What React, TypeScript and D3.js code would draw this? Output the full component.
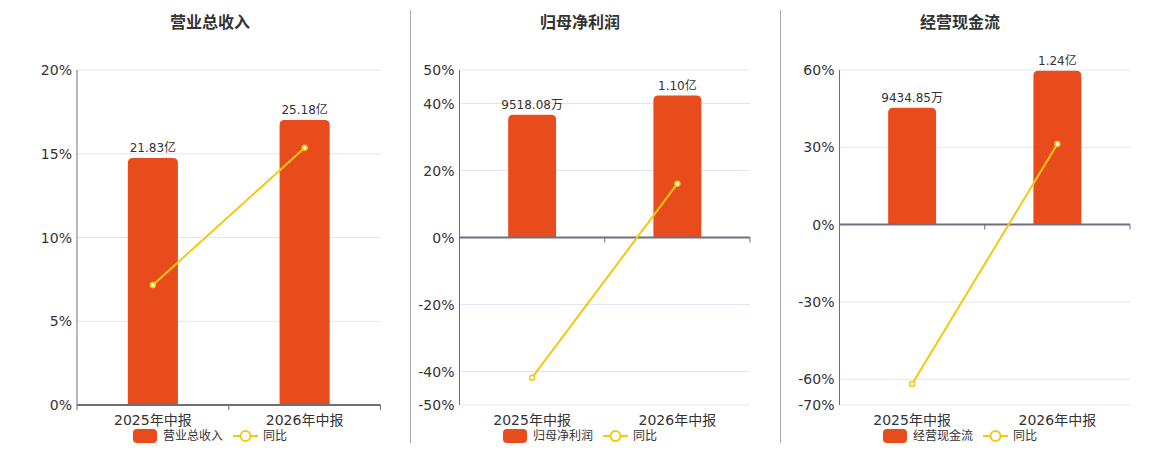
import * as d3 from 'd3';

const categories = ['2025年中报', '2026年中报'];
const titles = ['营业总收入', '归母净利润', '经营现金流'];

// bar values in 亿
const revenueValues = [21.83, 25.18];
const netProfitValues = [0.951808, 1.1];
const cashFlowValues = [0.943485, 1.24];

const revenueLabels = ['21.83亿', '25.18亿'];
const netProfitLabels = ['9518.08万', '1.10亿'];
const cashFlowLabels = ['9434.85万', '1.24亿'];

// 同比 (%)
const revenueYoy = [7.16, 15.36];
const netProfitYoy = [-41.85, 16.06];
const cashFlowYoy = [-61.86, 31.28];

const revenueTicks = [0, 5, 10, 15, 20];
const netProfitTicks = [-50, -40, -20, 0, 20, 40, 50];
const cashFlowTicks = [-70, -60, -30, 0, 30, 60];

const BAR = '#E94C1C';
const LINE = '#F3C80E';
const FONT = '"DejaVu Sans", "Noto Sans CJK SC", sans-serif';

const panels = [
  { title: titles[0], bars: revenueValues, labels: revenueLabels, yoy: revenueYoy, ticks: revenueTicks, barMax: 29.6, left: 77, right: 380.5, center: 210 },
  { title: titles[1], bars: netProfitValues, labels: netProfitLabels, yoy: netProfitYoy, ticks: netProfitTicks, barMax: 1.298, left: 459.5, right: 750, center: 580 },
  { title: titles[2], bars: cashFlowValues, labels: cashFlowLabels, yoy: cashFlowYoy, ticks: cashFlowTicks, barMax: 1.247, left: 839.5, right: 1130, center: 960 },
];

const TOP = 70;
const BOTTOM = 405;

function Panel({ p }: { p: (typeof panels)[number] }) {
  const x = d3.scaleBand().domain(categories).range([p.left, p.right]);
  const y = d3
    .scaleLinear()
    .domain([d3.min(p.ticks) ?? 0, d3.max(p.ticks) ?? 1])
    .range([BOTTOM, TOP]);
  const zero = y(0);
  const yBar = d3.scaleLinear().domain([0, p.barMax]).range([zero, TOP]);
  const barW = x.bandwidth() * 0.33;
  const cx = (c: string) => (x(c) ?? 0) + x.bandwidth() / 2;

  const line = d3
    .line<number>()
    .x((_, i) => cx(categories[i]))
    .y((d) => y(d));

  const r = 5;
  const path = (c: string, v: number) => {
    const x0 = cx(c) - barW / 2;
    const x1 = cx(c) + barW / 2;
    const t = yBar(v);
    return `M${x0},${zero}V${t + r}Q${x0},${t} ${x0 + r},${t}H${x1 - r}Q${x1},${t} ${x1},${t + r}V${zero}Z`;
  };

  // legend layout
  const textW = 60;
  const legendW = 24 + 6 + textW + 10 + 25 + 5 + 24;
  const lx = p.center - legendW / 2;
  const ly = 436;

  return (
    <g>
      <text x={p.center} y={28} textAnchor="middle" fontSize={16} fontWeight="bold" fill="#333">
        {p.title}
      </text>
      {p.ticks.map((t) => (
        <g key={t}>
          {t !== 0 && (
            <line x1={p.left} x2={p.right} y1={y(t)} y2={y(t)} stroke="#E0E6F1" strokeWidth={1} />
          )}
          <text x={p.left - 5} y={y(t)} dy="0.36em" textAnchor="end" fontSize={14} fill="#333">
            {t}%
          </text>
        </g>
      ))}
      {categories.map((c, i) => (
        <g key={c}>
          <path d={path(c, p.bars[i])} fill={BAR} />
          <text x={cx(c)} y={yBar(p.bars[i]) - 6} textAnchor="middle" fontSize={12} fill="#333">
            {p.labels[i]}
          </text>
          <text x={cx(c)} y={425} textAnchor="middle" fontSize={14} fill="#333">
            {c}
          </text>
        </g>
      ))}
      <line x1={p.left} x2={p.left} y1={TOP} y2={BOTTOM} stroke="#6E7079" strokeWidth={1} />
      <line x1={p.left} x2={p.right} y1={zero} y2={zero} stroke="#6E7079" strokeWidth={2} />
      {[p.left, cx(categories[0]) + x.bandwidth() / 2, p.right].map((tx, i) => (
        <line key={i} x1={tx} x2={tx} y1={zero} y2={zero + 5} stroke="#6E7079" strokeWidth={1} />
      ))}
      <path d={line(p.yoy) ?? ''} fill="none" stroke={LINE} strokeWidth={2} />
      {p.yoy.map((v, i) => (
        <circle key={i} cx={cx(categories[i])} cy={y(v)} r={2.5} fill="#fff" stroke={LINE} strokeWidth={1.5} />
      ))}
      <rect x={lx} y={ly - 7} width={24} height={14} rx={4} fill={BAR} />
      <text x={lx + 30} y={ly} dy="0.35em" fontSize={12} fill="#333">
        {p.title}
      </text>
      <line x1={lx + 30 + textW + 10} x2={lx + 30 + textW + 35} y1={ly} y2={ly} stroke={LINE} strokeWidth={2} />
      <circle cx={lx + 30 + textW + 22.5} cy={ly} r={5} fill="#fff" stroke={LINE} strokeWidth={2} />
      <text x={lx + 30 + textW + 40} y={ly} dy="0.35em" fontSize={12} fill="#333">
        同比
      </text>
    </g>
  );
}

export default function App() {
  return (
    <div style={{ position: 'fixed', left: 0, top: 0 }}>
      <svg width={1160} height={450} style={{ display: 'block', fontFamily: FONT, background: '#fff' }}>
        <line x1={410.5} x2={410.5} y1={10} y2={443} stroke="#AAA" strokeWidth={1} />
        <line x1={780.5} x2={780.5} y1={10} y2={443} stroke="#AAA" strokeWidth={1} />
        {panels.map((p) => (
          <Panel key={p.title} p={p} />
        ))}
      </svg>
    </div>
  );
}
